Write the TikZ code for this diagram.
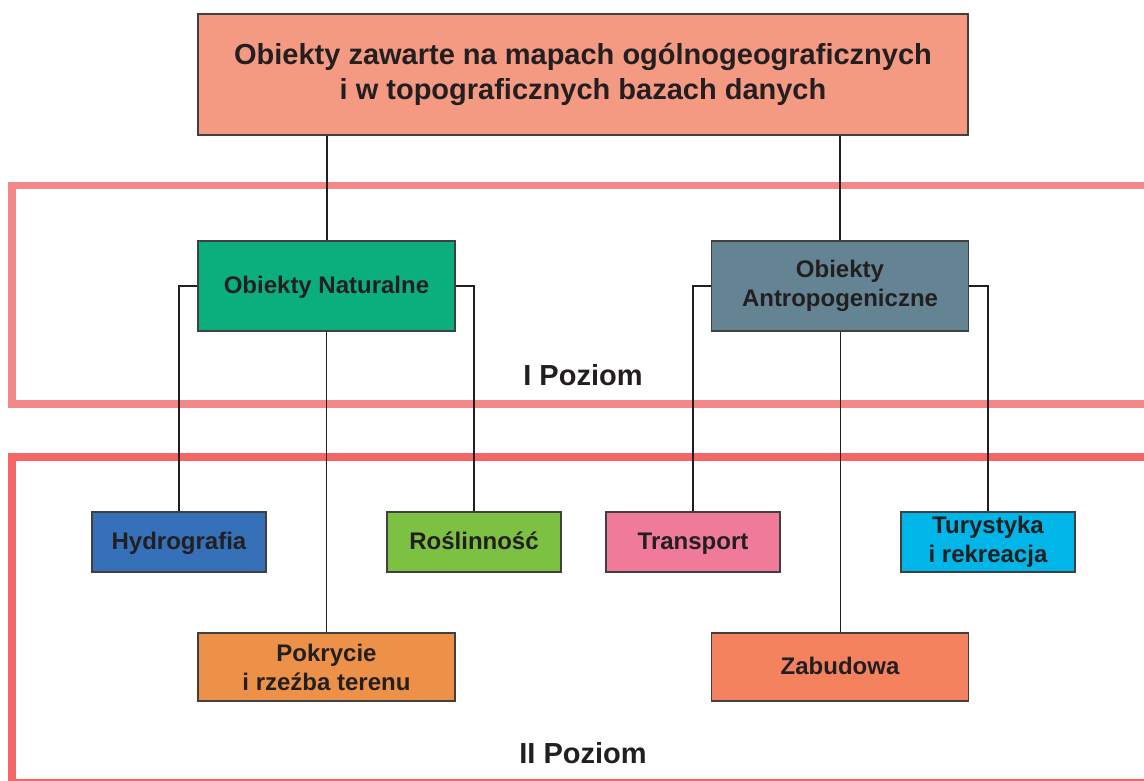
\documentclass[tikz,border=0pt]{standalone}
\usepackage{fontspec}
\setmainfont{Liberation Sans}
\usepackage{xcolor}
\definecolor{ink}{HTML}{231F20}
\definecolor{boxline}{HTML}{404040}
\definecolor{toppink}{HTML}{F59A82}
\definecolor{natgreen}{HTML}{0BAF7E}
\definecolor{antrogray}{HTML}{648494}
\definecolor{hydroblue}{HTML}{3670B8}
\definecolor{roslgreen}{HTML}{7DC142}
\definecolor{transpink}{HTML}{F07A9A}
\definecolor{turycyan}{HTML}{00B5E8}
\definecolor{pokrorange}{HTML}{ED9148}
\definecolor{zabsalmon}{HTML}{F4825E}
\definecolor{levelone}{HTML}{F48888}
\definecolor{leveltwo}{HTML}{F26666}
\tikzset{
  box/.style={draw=boxline, line width=1.2pt, text=ink, align=center, inner sep=0pt,
    font=\fontsize{24}{29}\selectfont\bfseries},
  oneline/.style={text height=17pt, text depth=3pt},
  bigbox/.style={box, minimum width=257pt, minimum height=90pt},
  smallbox/.style={box, minimum width=174pt, minimum height=60pt},
  lowbox/.style={box, minimum width=257pt, minimum height=68pt},
  level/.style={line width=7.5pt},
  levellabel/.style={text=ink, anchor=base, inner sep=0pt, font=\fontsize{29}{35}\selectfont\bfseries},
  thickline/.style={draw=ink, line width=2pt},
  thinline/.style={draw=ink, line width=1pt}
}
\begin{document}
\begin{tikzpicture}[x=1pt,y=-1pt]
\clip (0,0) rectangle (1144,780);
\fill[white] (0,0) rectangle (1144,780);
\draw[level, levelone] (12,185.5) rectangle (1170,404);
\draw[level, leveltwo] (12,457) rectangle (1170,782.5);
\node[levellabel] (poz1) at (583,385){I Poziom};
\node[levellabel] (poz2) at (583,763){II Poziom};
\node (top) at (583,74.5)[box, fill=toppink, minimum width=770pt, minimum height=121pt,
  font=\fontsize{29}{35}\selectfont\bfseries]{Obiekty zawarte na mapach ogólnogeograficznych\\i w topograficznych bazach danych};
\node (nat) at (326.5,286)[bigbox, oneline, fill=natgreen]{Obiekty Naturalne};
\node (antro) at (840,286)[bigbox, fill=antrogray]{Obiekty\\Antropogeniczne};
\node (hydro) at (179,542)[smallbox, oneline, fill=hydroblue]{Hydrografia};
\node (rosl) at (474,542)[smallbox, oneline, fill=roslgreen]{Roślinność};
\node (trans) at (693,542)[smallbox, oneline, fill=transpink]{Transport};
\node (tury) at (988,542)[smallbox, fill=turycyan]{Turystyka\\i rekreacja};
\node (pokr) at (326.5,667)[lowbox, fill=pokrorange]{Pokrycie\\i rzeźba terenu};
\node (zab) at (840,667)[lowbox, oneline, fill=zabsalmon]{Zabudowa};
\draw[thickline] (top.south -| nat.north)--(nat.north);
\draw[thickline] (top.south -| antro.north)--(antro.north);
\draw[thickline] (nat.west) -| (hydro.north);
\draw[thickline] (nat.east) -| (rosl.north);
\draw[thickline] (antro.west) -| (trans.north);
\draw[thickline] (antro.east) -| (tury.north);
\draw[thinline] (nat.south)--(pokr.north);
\draw[thinline] (antro.south)--(zab.north);
%
\end{tikzpicture}
\end{document}
